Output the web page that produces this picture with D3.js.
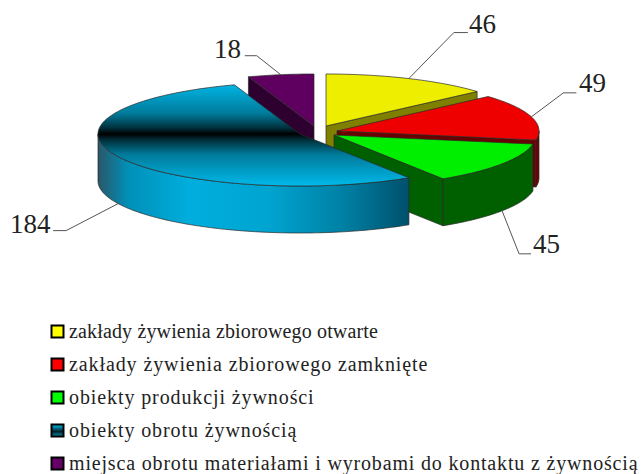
<!DOCTYPE html>
<html>
<head>
<meta charset="utf-8">
<script src="https://cdn.jsdelivr.net/npm/d3@7"></script>
<style>
  html, body { margin: 0; padding: 0; background: #fff; }
  svg { display: block; }
</style>
</head>
<body>
<div id="chart"></div>
<script>
const categories = [
    "zakłady żywienia zbiorowego otwarte",
    "zakłady żywienia zbiorowego zamknięte",
    "obiekty produkcji żywności",
    "obiekty obrotu żywnością",
    "miejsca obrotu materiałami i wyrobami do kontaktu z żywnością"
];
const values = [46, 49, 45, 184, 18];

// styl
const topColors = ["#eeee00", "#ee0000", "#00ee00", "url(#blueTop)", "#5f0060"];
const wallColors = ["#808000", "#6a0000", "#006000", "url(#blueWall)", "#2e0030"];
const legendColors = ["#ffff00", "#ff0000", "#00ff00", "url(#blueLegend)", "#660066"];

// uklad: srodek kazdego wycinka (rozsuniecie) i lamanie linii do etykiety
const centers = [[326, 126], [337, 131], [334, 135], [300, 134], [314, 126]];
const elbows = [[45, -46, 14], [32, -24, 13], [17, 43, 12], [-52, 27, -13], [-24, -19, -12]];
const labelPos = [[469, 33], [579, 92], [533, 253], [10, 233], [214, 58]];
const legendSpacing = [0.15, 0.9, 0.9, 0.9, 0.83];

const width = 642, height = 474;
const rx = 202, ry = 52, depth = 47;
const serif = '"Liberation Serif"';

const svg = d3.select("#chart").append("svg")
    .attr("width", width)
    .attr("height", height);

const defs = svg.append("defs");

function gradient(id, x1, y1, x2, y2, stops) {
    const g = defs.append("linearGradient")
        .attr("id", id)
        .attr("gradientUnits", "userSpaceOnUse")
        .attr("x1", x1).attr("y1", y1)
        .attr("x2", x2).attr("y2", y2);
    stops.forEach(s => g.append("stop").attr("offset", s[0]).attr("stop-color", s[1]));
}

gradient("blueTop", 0, 83, 0, 185, [[0, "#00b8e8"], [0.3, "#007a9a"], [0.44, "#00303c"], [0.5, "#000000"], [0.56, "#00303c"], [0.7, "#007a9a"], [1, "#00b8e8"]]);
gradient("blueWall", 97, 0, 409, 0, [[0, "#2c5566"], [0.1, "#0090b8"], [0.3, "#00aedd"], [0.55, "#00a4d0"], [0.8, "#007ea2"], [1, "#00506c"]]);
gradient("blueLegend", 0, 425, 0, 438, [[0, "#00b8e8"], [0.5, "#002028"], [1, "#00b8e8"]]);

// --- KATY ---
const pie = d3.pie().sort(null).value(d => d);
const arcs = pie(values);

// rzut kata na elipse
const sx = d3.scaleLinear().domain([-1, 1]).range([-rx, rx]);
const sy = d3.scaleLinear().domain([-1, 1]).range([-ry, ry]);

function point(i, a, dy = 0) {
    return [centers[i][0] + sx(Math.sin(a)), centers[i][1] + sy(-Math.cos(a)) + dy];
}

function arcPoints(i, a0, a1, dy = 0) {
    const n = Math.max(2, Math.ceil((a1 - a0) / 0.02));
    return d3.range(n + 1).map(k => point(i, a0 + (a1 - a0) * k / n, dy));
}

const line = d3.line();
const RIGHT = Math.PI / 2, LEFT = Math.PI * 1.5;

// --- WYCINKI ---
const slices = svg.append("g").attr("stroke", "#2a2a2a").attr("stroke-width", 0.7).attr("stroke-linejoin", "round");

// kolejnosc rysowania: fioletowy z tylu, niebieski na wierzchu
[4, 0, 1, 2, 3].forEach(i => {
    const a0 = arcs[i].startAngle, a1 = arcs[i].endAngle;
    const c = centers[i];
    const g = slices.append("g");

    // sciana wewnetrzna
    let edge = null;
    if (a1 < Math.PI) edge = a1;
    else if (a0 > Math.PI && a0 < Math.PI * 2) edge = a0;
    if (edge !== null) {
        g.append("path")
            .attr("fill", wallColors[i])
            .attr("d", line([c, point(i, edge), point(i, edge, depth), [c[0], c[1] + depth]]) + "Z");
    }

    // sciana zewnetrzna
    const w0 = Math.max(a0, RIGHT), w1 = Math.min(a1, LEFT);
    if (w1 > w0) {
        g.append("path")
            .attr("fill", wallColors[i])
            .attr("d", line(arcPoints(i, w0, w1).concat(arcPoints(i, w0, w1, depth).reverse())) + "Z");
    }

    // wierzch
    g.append("path")
        .attr("fill", topColors[i])
        .attr("d", line([c].concat(arcPoints(i, a0, a1))) + "Z");
});

// --- ETYKIETY ---
values.forEach((v, i) => {
    const a = (arcs[i].startAngle + arcs[i].endAngle) / 2;
    const front = a > RIGHT && a < LEFT;
    const p = point(i, a, front ? depth : 0);
    const e = elbows[i];
    const q = [p[0] + e[0], p[1] + e[1]];
    svg.append("path")
        .attr("fill", "none")
        .attr("stroke", "#555")
        .attr("stroke-width", 1)
        .attr("d", line([p, q, [q[0] + e[2], q[1]]]));
    svg.append("text")
        .attr("x", labelPos[i][0])
        .attr("y", labelPos[i][1])
        .style("font-family", serif)
        .style("font-size", "27px")
        .style("fill", "#222")
        .text(v);
});

// --- LEGENDA ---
const legendY = d3.scalePoint()
    .domain(categories)
    .range([331.5, 463.5]);

const legend = svg.append("g");
categories.forEach((c, i) => {
    legend.append("rect")
        .attr("x", 51.5)
        .attr("y", legendY(c) - 6)
        .attr("width", 12)
        .attr("height", 12)
        .attr("fill", legendColors[i])
        .attr("stroke", "#000")
        .attr("stroke-width", 2);
    legend.append("text")
        .attr("x", 69)
        .attr("y", legendY(c) + 6)
        .style("font-family", serif)
        .style("font-size", "20px")
        .style("letter-spacing", legendSpacing[i] + "px")
        .style("fill", "#222")
        .text(c);
});
</script>
</body>
</html>
